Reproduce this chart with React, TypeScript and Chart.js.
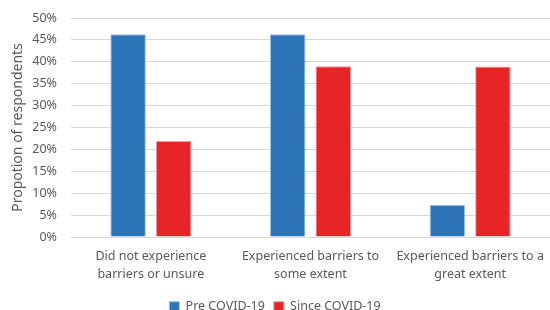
import React, { useEffect, useRef } from "react";
import { Chart, registerables } from "chart.js";

Chart.register(...registerables);

const categories: string[][] = [
  ["Did not experience", "barriers or unsure"],
  ["Experienced barriers to", "some extent"],
  ["Experienced barriers to a", "great extent"],
];
const preCovid = [46.3, 46.3, 7.3];
const sinceCovid = [21.9, 39.0, 38.9];
const seriesNames = ["Pre COVID-19", "Since COVID-19"];
const yTitle = "Propotion of respondents";

const FONT = "'Noto Sans', sans-serif";
const TEXT = "#595959";

export default function App() {
  const ref = useRef<HTMLCanvasElement>(null);
  useEffect(() => {
    document.body.style.margin = "0";
    const ctx = ref.current!;
    const chart = new Chart(ctx, {
      type: "bar",
      data: {
        labels: categories,
        datasets: [
          {
            label: seriesNames[0],
            data: preCovid,
            backgroundColor: "#2E74B8",
            borderColor: "#9DBEE3",
            borderWidth: 1,
            barPercentage: 0.78,
            categoryPercentage: 0.57,
          },
          {
            label: seriesNames[1],
            data: sinceCovid,
            backgroundColor: "#E72426",
            borderColor: "#F29A9A",
            borderWidth: 1,
            barPercentage: 0.78,
            categoryPercentage: 0.57,
          },
        ],
      },
      options: {
        responsive: false,
        animation: false,
        layout: { padding: { top: 18, right: 0, left: 0, bottom: -13 } },
        plugins: {
          tooltip: { enabled: false },
          legend: {
            position: "bottom",
            labels: {
              boxWidth: 10,
              boxHeight: 10,
              color: TEXT,
              font: { family: FONT, size: 12.5 },
              padding: 9,
            },
          },
        },
        scales: {
          x: {
            grid: { display: false },
            border: { display: false },
            ticks: {
              color: TEXT,
              font: { family: FONT, size: 12.5, lineHeight: 1.42 },
              maxRotation: 0,
              autoSkip: false,
              padding: 3,
            },
            afterFit: (scale: any) => {
              scale.height += 5;
            },
          },
          y: {
            min: 0,
            max: 50,
            ticks: {
              stepSize: 5,
              color: TEXT,
              font: { family: FONT, size: 12.5 },
              callback: (v: any) => v + "%",
              padding: 6,
            },
            grid: {
              color: "#D9D9D9",
              lineWidth: 1,
              drawTicks: true,
              tickLength: 8,
              tickColor: "rgba(0,0,0,0)",
            },
            border: { display: false },
            title: {
              display: true,
              text: yTitle,
              color: TEXT,
              font: { family: FONT, size: 14 },
              padding: { top: 10, bottom: 0 },
            },
            afterFit: (scale: any) => {
              scale.width = 71;
            },
          },
        },
      },
    });
    return () => chart.destroy();
  }, []);
  return (
    <div style={{ width: 550, height: 310 }}>
      <canvas ref={ref} width={550} height={310} />
    </div>
  );
}
